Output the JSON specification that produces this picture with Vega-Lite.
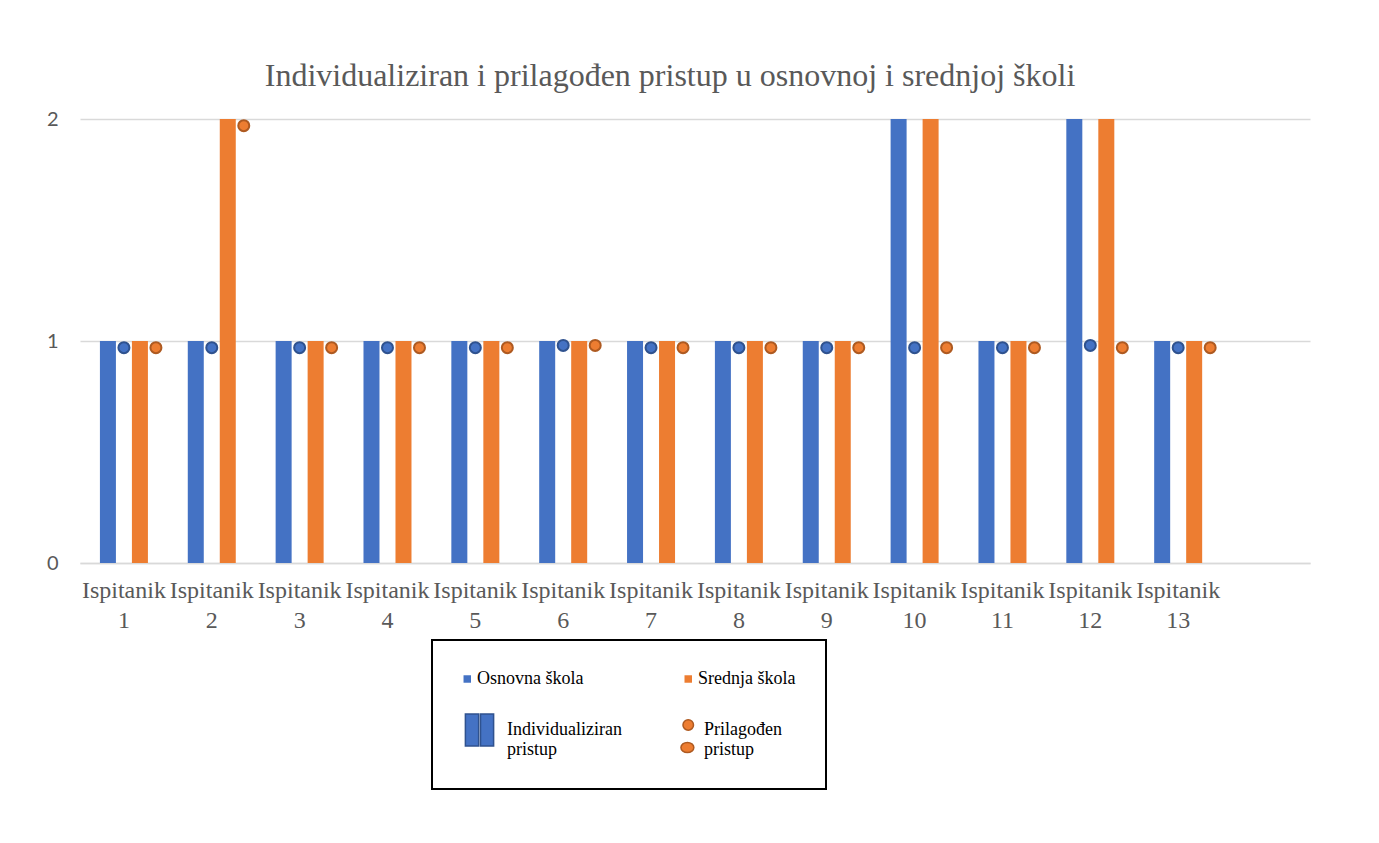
{
  "$schema": "https://vega.github.io/schema/vega-lite/v6.json",
  "width": 1230,
  "height": 444,
  "autosize": {"type": "none"},
  "padding": {"left": 80, "top": 119, "right": 69, "bottom": 280},
  "background": "white",
  "config": {"view": {"stroke": null}},
  "title": {
    "text": "Individualiziran i prilagođen pristup u osnovnoj i srednjoj školi",
    "font": "Liberation Serif",
    "fontSize": 32,
    "fontWeight": "normal",
    "color": "#595959",
    "anchor": "middle",
    "frame": "group",
    "baseline": "bottom",
    "offset": -16,
    "dx": -25
  },
  "data": {
    "values": [
      {"ispitanik": "Ispitanik 1", "skola": "Osnovna škola", "skola_p": "Osnovna škola – prilagođen", "individualiziran": 1, "prilagoden": 0.97},
      {"ispitanik": "Ispitanik 1", "skola": "Srednja škola", "skola_p": "Srednja škola – prilagođen", "individualiziran": 1, "prilagoden": 0.97},
      {"ispitanik": "Ispitanik 2", "skola": "Osnovna škola", "skola_p": "Osnovna škola – prilagođen", "individualiziran": 1, "prilagoden": 0.97},
      {"ispitanik": "Ispitanik 2", "skola": "Srednja škola", "skola_p": "Srednja škola – prilagođen", "individualiziran": 2, "prilagoden": 1.97},
      {"ispitanik": "Ispitanik 3", "skola": "Osnovna škola", "skola_p": "Osnovna škola – prilagođen", "individualiziran": 1, "prilagoden": 0.97},
      {"ispitanik": "Ispitanik 3", "skola": "Srednja škola", "skola_p": "Srednja škola – prilagođen", "individualiziran": 1, "prilagoden": 0.97},
      {"ispitanik": "Ispitanik 4", "skola": "Osnovna škola", "skola_p": "Osnovna škola – prilagođen", "individualiziran": 1, "prilagoden": 0.97},
      {"ispitanik": "Ispitanik 4", "skola": "Srednja škola", "skola_p": "Srednja škola – prilagođen", "individualiziran": 1, "prilagoden": 0.97},
      {"ispitanik": "Ispitanik 5", "skola": "Osnovna škola", "skola_p": "Osnovna škola – prilagođen", "individualiziran": 1, "prilagoden": 0.97},
      {"ispitanik": "Ispitanik 5", "skola": "Srednja škola", "skola_p": "Srednja škola – prilagođen", "individualiziran": 1, "prilagoden": 0.97},
      {"ispitanik": "Ispitanik 6", "skola": "Osnovna škola", "skola_p": "Osnovna škola – prilagođen", "individualiziran": 1, "prilagoden": 0.98},
      {"ispitanik": "Ispitanik 6", "skola": "Srednja škola", "skola_p": "Srednja škola – prilagođen", "individualiziran": 1, "prilagoden": 0.98},
      {"ispitanik": "Ispitanik 7", "skola": "Osnovna škola", "skola_p": "Osnovna škola – prilagođen", "individualiziran": 1, "prilagoden": 0.97},
      {"ispitanik": "Ispitanik 7", "skola": "Srednja škola", "skola_p": "Srednja škola – prilagođen", "individualiziran": 1, "prilagoden": 0.97},
      {"ispitanik": "Ispitanik 8", "skola": "Osnovna škola", "skola_p": "Osnovna škola – prilagođen", "individualiziran": 1, "prilagoden": 0.97},
      {"ispitanik": "Ispitanik 8", "skola": "Srednja škola", "skola_p": "Srednja škola – prilagođen", "individualiziran": 1, "prilagoden": 0.97},
      {"ispitanik": "Ispitanik 9", "skola": "Osnovna škola", "skola_p": "Osnovna škola – prilagođen", "individualiziran": 1, "prilagoden": 0.97},
      {"ispitanik": "Ispitanik 9", "skola": "Srednja škola", "skola_p": "Srednja škola – prilagođen", "individualiziran": 1, "prilagoden": 0.97},
      {"ispitanik": "Ispitanik 10", "skola": "Osnovna škola", "skola_p": "Osnovna škola – prilagođen", "individualiziran": 2, "prilagoden": 0.97},
      {"ispitanik": "Ispitanik 10", "skola": "Srednja škola", "skola_p": "Srednja škola – prilagođen", "individualiziran": 2, "prilagoden": 0.97},
      {"ispitanik": "Ispitanik 11", "skola": "Osnovna škola", "skola_p": "Osnovna škola – prilagođen", "individualiziran": 1, "prilagoden": 0.97},
      {"ispitanik": "Ispitanik 11", "skola": "Srednja škola", "skola_p": "Srednja škola – prilagođen", "individualiziran": 1, "prilagoden": 0.97},
      {"ispitanik": "Ispitanik 12", "skola": "Osnovna škola", "skola_p": "Osnovna škola – prilagođen", "individualiziran": 2, "prilagoden": 0.98},
      {"ispitanik": "Ispitanik 12", "skola": "Srednja škola", "skola_p": "Srednja škola – prilagođen", "individualiziran": 2, "prilagoden": 0.97},
      {"ispitanik": "Ispitanik 13", "skola": "Osnovna škola", "skola_p": "Osnovna škola – prilagođen", "individualiziran": 1, "prilagoden": 0.97},
      {"ispitanik": "Ispitanik 13", "skola": "Srednja škola", "skola_p": "Srednja škola – prilagođen", "individualiziran": 1, "prilagoden": 0.97}
    ]
  },
  "encoding": {
    "x": {
      "field": "ispitanik",
      "type": "nominal",
      "sort": null,
      "scale": {"paddingInner": 0.0895, "paddingOuter": 0.545, "align": 0.041},
      "axis": {
        "title": null,
        "labelExpr": "split(datum.value, ' ')",
        "labelAngle": 0,
        "labelFont": "Liberation Serif",
        "labelFontSize": 24,
        "labelColor": "#595959",
        "labelLineHeight": 30,
        "labelPadding": 15,
        "labelOverlap": false,
        "labelBound": false,
        "labelLimit": 200,
        "ticks": false,
        "domainColor": "#D9D9D9",
        "domainWidth": 1.5,
        "grid": false
      }
    }
  },
  "layer": [
    {
      "mark": {"type": "bar"},
      "encoding": {
        "xOffset": {
          "field": "skola",
          "type": "nominal",
          "scale": {
            "domain": ["Osnovna škola", "Osnovna škola – prilagođen", "Srednja škola", "Srednja škola – prilagođen"],
            "paddingInner": 0,
            "paddingOuter": 0.5,
            "align": 1
          }
        },
        "y": {
          "field": "individualiziran",
          "type": "quantitative",
          "scale": {"domain": [0, 2], "nice": false},
          "axis": {
            "title": null,
            "values": [0, 1, 2],
            "tickCount": 3,
            "labelExpr": "'' + datum.value",
            "grid": true,
            "gridColor": "#D9D9D9",
            "gridWidth": 1.5,
            "domain": false,
            "ticks": false,
            "labelFont": "Lato",
            "labelFontSize": 20,
            "labelColor": "#595959",
            "labelPadding": 22
          }
        },
        "color": {
          "field": "skola",
          "type": "nominal",
          "scale": {
            "domain": ["Osnovna škola", "Srednja škola", "Individualiziran pristup", "Prilagođen pristup"],
            "range": ["#4472C4", "#ED7D31", "#4472C4", "#ED7D31"]
          },
          "legend": {
            "title": null,
            "orient": "none",
            "direction": "horizontal",
            "legendX": 352,
            "legendY": 521,
            "columns": 2,
            "columnPadding": 55,
            "rowPadding": 23,
            "padding": 30,
            "strokeColor": "black",
            "symbolSize": 1156,
            "labelOffset": 10,
            "labelFont": "Liberation Serif",
            "labelFontSize": 18,
            "labelColor": "black",
            "labelLineHeight": 25,
            "labelLimit": 300,
            "labelExpr": "datum.label === 'Individualiziran pristup' ? ['Individualiziran', 'pristup'] : datum.label === 'Prilagođen pristup' ? ['Prilagođen', 'pristup'] : datum.label",
            "encode": {
              "legend": {"update": {"strokeWidth": {"value": 2}}},
              "labels": {
                "update": {
                  "dx": {"signal": "datum.value === 'Osnovna škola' ? -13 : datum.value === 'Srednja škola' ? -14 : datum.value === 'Prilagođen pristup' ? -8 : 17"}
                }
              },
              "symbols": {
                "update": {
                  "shape": {"signal": "datum.value === 'Individualiziran pristup' ? 'M-0.33,-0.94H0.45V0.94H-0.33Z M0.56,-0.94H1.33V0.94H0.56Z' : datum.value === 'Prilagođen pristup' ? 'M-0.59,-0.3A0.31,0.31 0 1,0 0.03,-0.3A0.31,0.31 0 1,0 -0.59,-0.3Z M-0.71,1.03A0.38,0.3 0 1,0 0.05,1.03A0.38,0.3 0 1,0 -0.71,1.03Z' : datum.value === 'Srednja škola' ? 'M-0.5,-0.22H-0.06V0.22H-0.5Z' : 'M-0.44,-0.22H0V0.22H-0.44Z'"},
                  "stroke": {"signal": "datum.value === 'Individualiziran pristup' ? '#2F528F' : datum.value === 'Prilagođen pristup' ? '#AE5A21' : 'transparent'"},
                  "strokeWidth": {"signal": "datum.value === 'Individualiziran pristup' || datum.value === 'Prilagođen pristup' ? 1.5 : 0"},
                  "opacity": {"value": 1}
                }
              }
            }
          }
        }
      }
    },
    {
      "mark": {"type": "point", "filled": true, "size": 121, "strokeWidth": 2, "opacity": 1},
      "encoding": {
        "xOffset": {
          "field": "skola_p",
          "type": "nominal",
          "scale": {
            "domain": ["Osnovna škola", "Osnovna škola – prilagođen", "Srednja škola", "Srednja škola – prilagođen"],
            "paddingInner": 0,
            "paddingOuter": 0.5,
            "align": 1
          }
        },
        "y": {"field": "prilagoden", "type": "quantitative"},
        "color": {"field": "skola", "type": "nominal"},
        "stroke": {
          "field": "skola",
          "type": "nominal",
          "scale": {"domain": ["Osnovna škola", "Srednja škola"], "range": ["#2F528F", "#AE5A21"]},
          "legend": null
        }
      }
    }
  ]
}
